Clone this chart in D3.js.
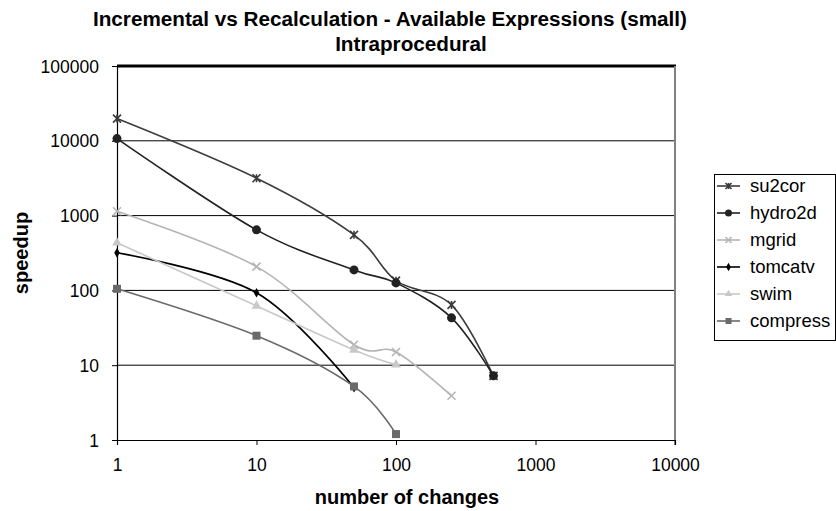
<!DOCTYPE html>
<html lang="en">
<head>
<meta charset="utf-8">
<script src="https://cdn.jsdelivr.net/npm/d3@7"></script>
<style>
	body { margin: 0; background: #fff; }
	svg { font-family: "Liberation Sans", Arial, sans-serif; }
</style>
</head>
<body>
<svg id="chart" width="836" height="511"></svg>
<script>
	// data
	var titleLines = ["Incremental vs Recalculation - Available Expressions (small)", "Intraprocedural"];
	var xTicks = [1, 10, 100, 1000, 10000];
	var yTicks = [1, 10, 100, 1000, 10000, 100000];
	var seriesNames = ["su2cor", "hydro2d", "mgrid", "tomcatv", "swim", "compress"];

	var su2corX = [1, 10, 50, 100, 250, 500];
	var su2corY = [19800, 3160, 553, 135, 64, 7.2];
	var hydro2dX = [1, 10, 50, 100, 250, 500];
	var hydro2dY = [10700, 645, 188, 126, 43, 7.2];
	var mgridX = [1, 10, 50, 100, 250];
	var mgridY = [1145, 208, 18.8, 15, 3.9];
	var tomcatvX = [1, 10, 50];
	var tomcatvY = [318, 93, 5.0];
	var swimX = [1, 10, 50, 100];
	var swimY = [433, 62, 16, 10.2];
	var compressX = [1, 10, 50, 100];
	var compressY = [105, 24.8, 5.2, 1.2];

	var series = [
		{ name: seriesNames[0], xs: su2corX,   ys: su2corY,   color: "#3c3c3c", marker: "star" },
		{ name: seriesNames[1], xs: hydro2dX,  ys: hydro2dY,  color: "#222222", marker: "circle" },
		{ name: seriesNames[2], xs: mgridX,    ys: mgridY,    color: "#b4b4b4", marker: "cross" },
		{ name: seriesNames[3], xs: tomcatvX,  ys: tomcatvY,  color: "#000000", marker: "diamond" },
		{ name: seriesNames[4], xs: swimX,     ys: swimY,     color: "#c8c8c8", marker: "triangle" },
		{ name: seriesNames[5], xs: compressX, ys: compressY, color: "#6a6a6a", marker: "square" }
	];

	var svg = d3.select("#chart");
	var plotLeft = 117, plotRight = 675, plotTop = 66, plotBottom = 440;

	var x = d3.scaleLog().domain([1, 10000]).range([plotLeft, plotRight]);
	var y = d3.scaleLog().domain([1, 100000]).range([plotBottom, plotTop]);

	// title
	svg.append("text").attr("x", 390).attr("y", 26).attr("text-anchor", "middle")
		.attr("font-weight", "bold").attr("font-size", 20.7).text(titleLines[0]);
	svg.append("text").attr("x", 411).attr("y", 51).attr("text-anchor", "middle")
		.attr("font-weight", "bold").attr("font-size", 20.7).text(titleLines[1]);

	// gridlines
	svg.append("g").selectAll("line")
		.data(yTicks.filter(function(d){ return d > 1 && d < 100000 }))
		.enter().append("line")
		.attr("x1", plotLeft).attr("x2", plotRight)
		.attr("y1", function(d){ return y(d) }).attr("y2", function(d){ return y(d) })
		.attr("stroke", "#000").attr("stroke-width", 1);

	// top thick border + right gray border
	svg.append("line").attr("x1", plotLeft).attr("x2", plotRight + 1)
		.attr("y1", y(100000)).attr("y2", y(100000))
		.attr("stroke", "#000").attr("stroke-width", 3);
	svg.append("line").attr("x1", plotRight).attr("x2", plotRight)
		.attr("y1", plotTop).attr("y2", plotBottom + 5)
		.attr("stroke", "#808080").attr("stroke-width", 2);

	// axes
	var xAxis = svg.append("g").attr("transform", "translate(0," + plotBottom + ")")
		.call(d3.axisBottom(x).tickValues(xTicks).tickFormat(d3.format("d")).tickSizeOuter(0).tickSize(5).tickPadding(14));
	var yAxis = svg.append("g").attr("transform", "translate(" + plotLeft + ",0)")
		.call(d3.axisLeft(y).tickValues(yTicks).tickFormat(d3.format("d")).tickSizeOuter(0).tickSize(5).tickPadding(13));
	[xAxis, yAxis].forEach(function(a) {
		a.select(".domain").attr("stroke", "#000").attr("stroke-width", 1.2);
		a.selectAll(".tick line").attr("stroke", "#000");
		a.selectAll("text").attr("font-size", 17.5).attr("font-family", "Liberation Sans, Arial, sans-serif").attr("fill", "#000");
	});
	yAxis.selectAll("text").attr("dy", "0.35em");

	// axis titles
	svg.append("text").attr("x", 407).attr("y", 504).attr("text-anchor", "middle")
		.attr("font-weight", "bold").attr("font-size", 20).text("number of changes");
	svg.append("text").attr("transform", "translate(28,253) rotate(-90)").attr("text-anchor", "middle")
		.attr("font-weight", "bold").attr("font-size", 20).text("speedup");

	function drawMarker(g, type, color, cx, cy, s) {
		if (type === "star") {
			g.append("path").attr("d",
				"M" + (cx - s) + "," + (cy - s) + "L" + (cx + s) + "," + (cy + s) +
				"M" + (cx - s) + "," + (cy + s) + "L" + (cx + s) + "," + (cy - s) +
				"M" + cx + "," + (cy - s) + "L" + cx + "," + (cy + s))
				.attr("stroke", color).attr("stroke-width", 1.6).attr("fill", "none");
		} else if (type === "cross") {
			g.append("path").attr("d",
				"M" + (cx - s) + "," + (cy - s) + "L" + (cx + s) + "," + (cy + s) +
				"M" + (cx - s) + "," + (cy + s) + "L" + (cx + s) + "," + (cy - s))
				.attr("stroke", color).attr("stroke-width", 1.6).attr("fill", "none");
		} else if (type === "circle") {
			g.append("circle").attr("cx", cx).attr("cy", cy).attr("r", s).attr("fill", color);
		} else if (type === "diamond") {
			g.append("path").attr("d", d3.symbol(d3.symbolDiamond, s * s * 2.2)()).attr("transform", "translate(" + cx + "," + cy + ")")
				.attr("fill", color);
		} else if (type === "triangle") {
			g.append("path").attr("d", d3.symbol(d3.symbolTriangle, s * s * 2.6)()).attr("transform", "translate(" + cx + "," + cy + ")")
				.attr("fill", color);
		} else if (type === "square") {
			g.append("rect").attr("x", cx - s).attr("y", cy - s).attr("width", 2 * s).attr("height", 2 * s).attr("fill", color);
		}
	}

	var markerSize = { star: 4, cross: 4, circle: 4.5, diamond: 3.5, triangle: 4, square: 4 };

	var line = d3.line()
		.x(function(d){ return x(d[0]) })
		.y(function(d){ return y(d[1]) })
		.curve(d3.curveCatmullRom.alpha(0));

	// series in order, later ones on top (like the reference)
	var plot = svg.append("g");
	series.forEach(function(s) {
		var pts = s.xs.map(function(v, i){ return [v, s.ys[i]] });
		plot.append("path").datum(pts).attr("d", line)
			.attr("fill", "none").attr("stroke", s.color).attr("stroke-width", 1.6);
		pts.forEach(function(p) {
			drawMarker(plot, s.marker, s.color, x(p[0]), y(p[1]), markerSize[s.marker]);
		});
	});

	// legend
	var legend = svg.append("g");
	legend.append("rect").attr("x", 714.5).attr("y", 174.5).attr("width", 121).attr("height", 166)
		.attr("fill", "#fff").attr("stroke", "#000").attr("stroke-width", 1);
	series.forEach(function(s, i) {
		var ly = 186 + i * 27;
		legend.append("line").attr("x1", 717).attr("x2", 740).attr("y1", ly).attr("y2", ly)
			.attr("stroke", s.color).attr("stroke-width", 1.6);
		drawMarker(legend, s.marker, s.color, 728.5, ly, s.marker === "circle" ? 3.5 : 3);
		legend.append("text").attr("x", 750).attr("y", ly).attr("dy", "0.35em")
			.attr("font-size", 18.5).text(s.name);
	});
</script>
</body>
</html>
